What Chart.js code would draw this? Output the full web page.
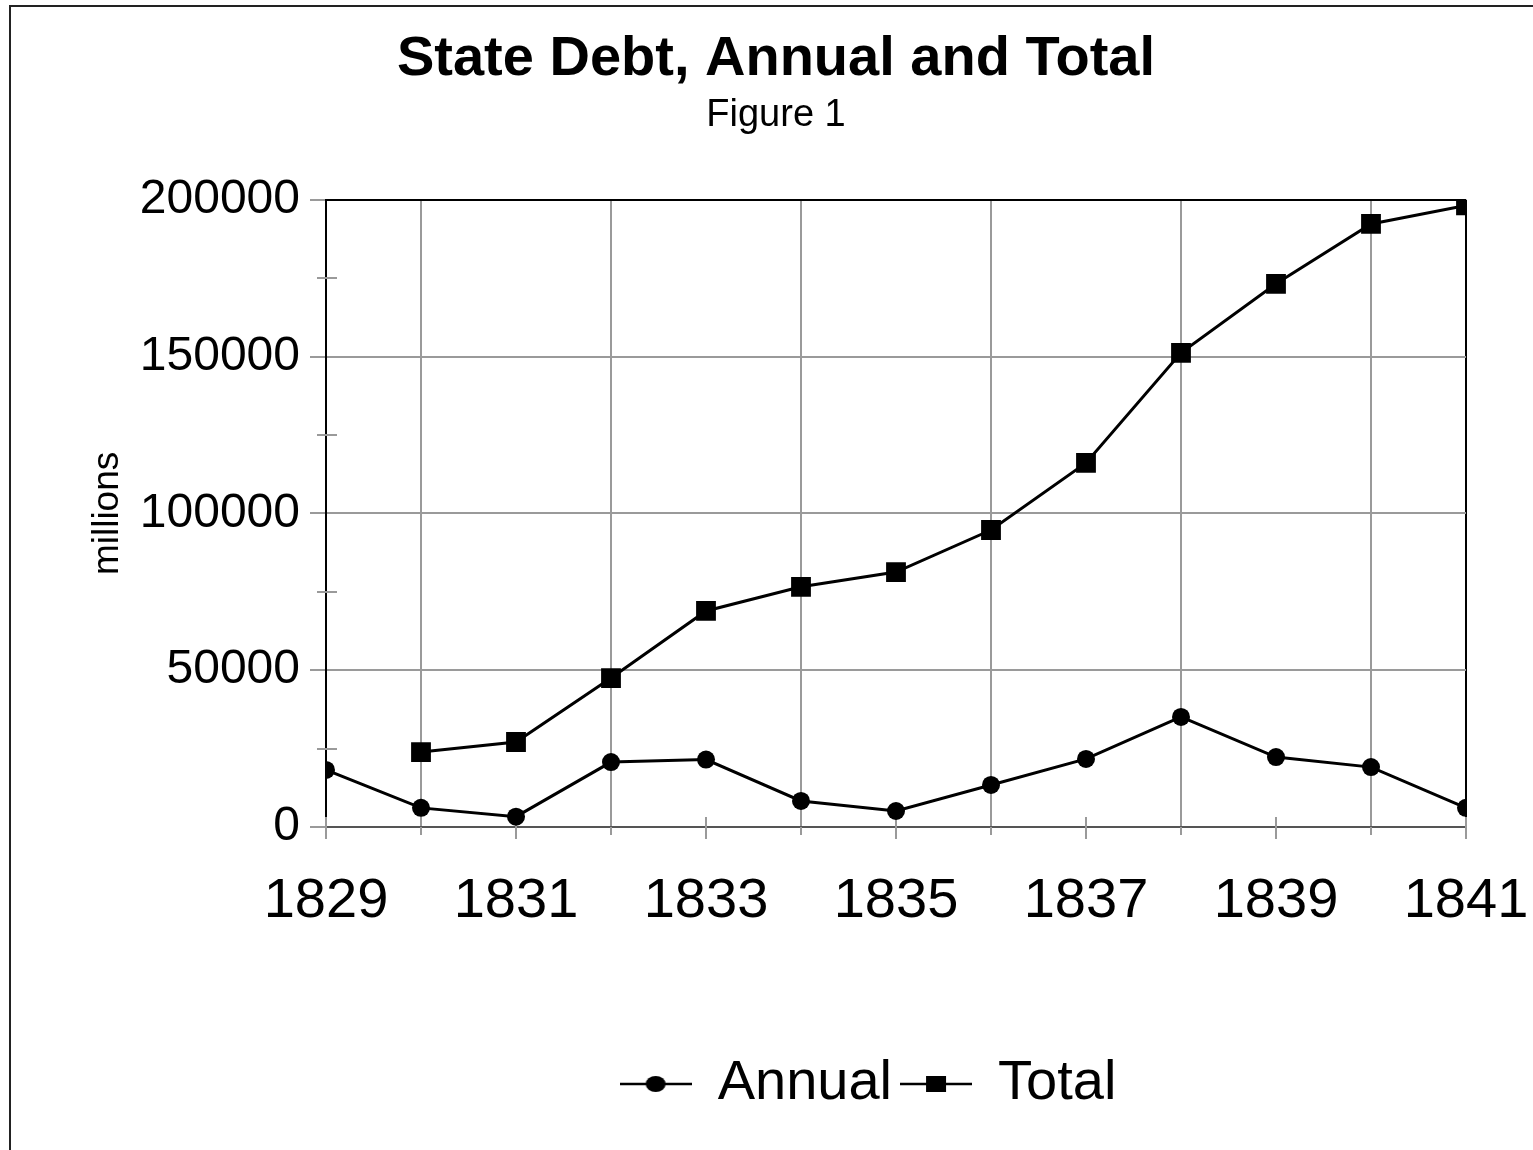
<!DOCTYPE html>
<html>
<head>
<meta charset="utf-8">
<script src="https://cdn.jsdelivr.net/npm/chart.js@4.4.1/dist/chart.umd.min.js"></script>
<style>
  html, body { margin: 0; padding: 0; background: #fff; }
  #marco {
    position: absolute; left: 9px; top: 5px; width: 1524px; height: 1145px;
    border-left: 2px solid #222; border-top: 2px solid #222;
    pointer-events: none;
  }
  #grafico { position: absolute; left: 0; top: 0; }
</style>
</head>
<body>
<canvas id="grafico" width="1533" height="1150"></canvas>
<div id="marco"></div>
<script>
// Datos
const anios = [1829, 1830, 1831, 1832, 1833, 1834, 1835, 1836, 1837, 1838, 1839, 1840, 1841];
const deudaAnual = [18200, 6100, 3300, 20700, 21500, 8300, 5100, 13400, 21700, 35100, 22300, 19100, 6100];
const deudaTotal = [null, 23900, 27100, 47500, 68900, 76600, 81300, 94700, 116100, 151200, 173200, 192300, 198200];
const nombresSeries = ["Annual", "Total"];
const titulo = "State Debt, Annual and Total";
const subtitulo = "Figure 1";
const tituloEjeY = "millions";

const gris = "#9a9a9a";
const transparente = "rgba(0,0,0,0)";
const fuente = "'Liberation Sans', Arial, sans-serif";

// Iconos de la leyenda: linea con marcador en medio
function iconoLeyenda(tipo) {
  const c = document.createElement("canvas");
  c.width = 72;
  c.height = 22;
  const g = c.getContext("2d");
  g.strokeStyle = "#000";
  g.fillStyle = "#000";
  g.lineWidth = 2.5;
  g.beginPath();
  g.moveTo(0, 11);
  g.lineTo(72, 11);
  g.stroke();
  if (tipo === "circulo") {
    g.beginPath();
    g.ellipse(36, 11, 10, 8, 0, 0, Math.PI * 2);
    g.fill();
  } else {
    g.fillRect(26, 3, 20, 16);
  }
  return c;
}
const iconos = [iconoLeyenda("circulo"), iconoLeyenda("cuadrado")];

// Marcas de los ejes (las menores cruzan el eje)
const marcasEjes = {
  id: "marcasEjes",
  beforeDatasetsDraw(chart) {
    const { ctx, scales: { x, y } } = chart;
    ctx.save();
    ctx.strokeStyle = gris;
    ctx.lineWidth = 2;
    x.ticks.forEach(t => {
      const px = Math.round(x.getPixelForValue(t.value));
      ctx.beginPath();
      if (t.value % 2 === 1) {
        ctx.moveTo(px, y.bottom - 10);
        ctx.lineTo(px, y.bottom + 12);
      } else {
        ctx.moveTo(px, y.bottom);
        ctx.lineTo(px, y.bottom + 8);
      }
      ctx.stroke();
    });
    y.ticks.forEach(t => {
      if (t.value % 50000 !== 0) {
        const py = Math.round(y.getPixelForValue(t.value));
        ctx.beginPath();
        ctx.moveTo(x.left - 9, py);
        ctx.lineTo(x.left + 11, py);
        ctx.stroke();
      }
    });
    ctx.restore();
  }
};

// La leyenda va un poco a la izquierda del centro del grafico
const moverLeyenda = {
  id: "moverLeyenda",
  afterLayout(chart) {
    chart.legend.left -= 27;
    chart.legend.right -= 27;
  }
};

const ctx = document.getElementById("grafico").getContext("2d");

new Chart(ctx, {
  type: "line",
  data: {
    datasets: [{
      label: nombresSeries[0],
      data: anios.map((a, i) => ({ x: a, y: deudaAnual[i] })),
      borderColor: "#000",
      backgroundColor: "#000",
      borderWidth: 3,
      pointStyle: "circle",
      pointRadius: 9,
      pointBackgroundColor: "#000",
      pointBorderWidth: 0,
      tension: 0
    }, {
      label: nombresSeries[1],
      data: anios.map((a, i) => ({ x: a, y: deudaTotal[i] })),
      borderColor: "#000",
      backgroundColor: "#000",
      borderWidth: 3,
      pointStyle: "rect",
      pointRadius: 14,
      pointBackgroundColor: "#000",
      pointBorderWidth: 0,
      tension: 0
    }]
  },
  options: {
    responsive: false,
    animation: false,
    layout: {
      padding: { top: 0, right: 67, bottom: 28, left: 86 }
    },
    plugins: {
      title: {
        display: true,
        text: titulo,
        color: "#000",
        font: { family: fuente, size: 56, weight: "bold" },
        padding: { top: 26, bottom: 0 }
      },
      subtitle: {
        display: true,
        text: subtitulo,
        color: "#000",
        font: { family: fuente, size: 38 },
        padding: { top: 0, bottom: 61 }
      },
      legend: {
        position: "bottom",
        fullSize: false,
        labels: {
          color: "#000",
          font: { family: fuente, size: 56 },
          usePointStyle: true,
          pointStyleWidth: 68,
          padding: 10,
          generateLabels: (chart) => {
            const items = Chart.defaults.plugins.legend.labels.generateLabels(chart);
            items.forEach((it, i) => { it.pointStyle = iconos[i]; });
            return items;
          }
        }
      },
      tooltip: { enabled: false }
    },
    scales: {
      x: {
        type: "linear",
        min: 1829,
        max: 1841,
        afterFit: (scale) => { scale.height = 219; },
        border: { color: "#555", width: 2 },
        grid: {
          lineWidth: 2,
          tickLength: 41,
          color: (c) => {
            const v = c.tick.value;
            if (v === 1841) return "#000";
            if (v === 1829) return transparente;
            return v % 2 === 0 ? gris : transparente;
          },
          tickColor: transparente
        },
        ticks: {
          stepSize: 1,
          autoSkip: false,
          maxRotation: 0,
          minRotation: 0,
          padding: 0,
          color: "#000",
          font: { family: fuente, size: 56 },
          callback: (v) => (v % 2 === 1 ? String(v) : "")
        }
      },
      y: {
        min: 0,
        max: 200000,
        afterFit: (scale) => { scale.width = 240; },
        border: { color: "#000", width: 2 },
        title: {
          display: true,
          text: tituloEjeY,
          color: "#000",
          font: { family: fuente, size: 37 },
          padding: { top: 0, bottom: 0 }
        },
        grid: {
          lineWidth: 2,
          tickLength: 16,
          color: (c) => {
            const v = c.tick.value;
            if (v === 200000) return "#000";
            return v % 50000 === 0 ? gris : transparente;
          },
          tickColor: (c) => (c.tick.value % 50000 === 0 ? gris : transparente)
        },
        ticks: {
          stepSize: 25000,
          autoSkip: false,
          padding: 10,
          color: "#000",
          font: { family: fuente, size: 48 },
          callback: (v) => (v % 50000 === 0 ? String(v) : "")
        }
      }
    }
  },
  plugins: [marcasEjes, moverLeyenda]
});
</script>
</body>
</html>
